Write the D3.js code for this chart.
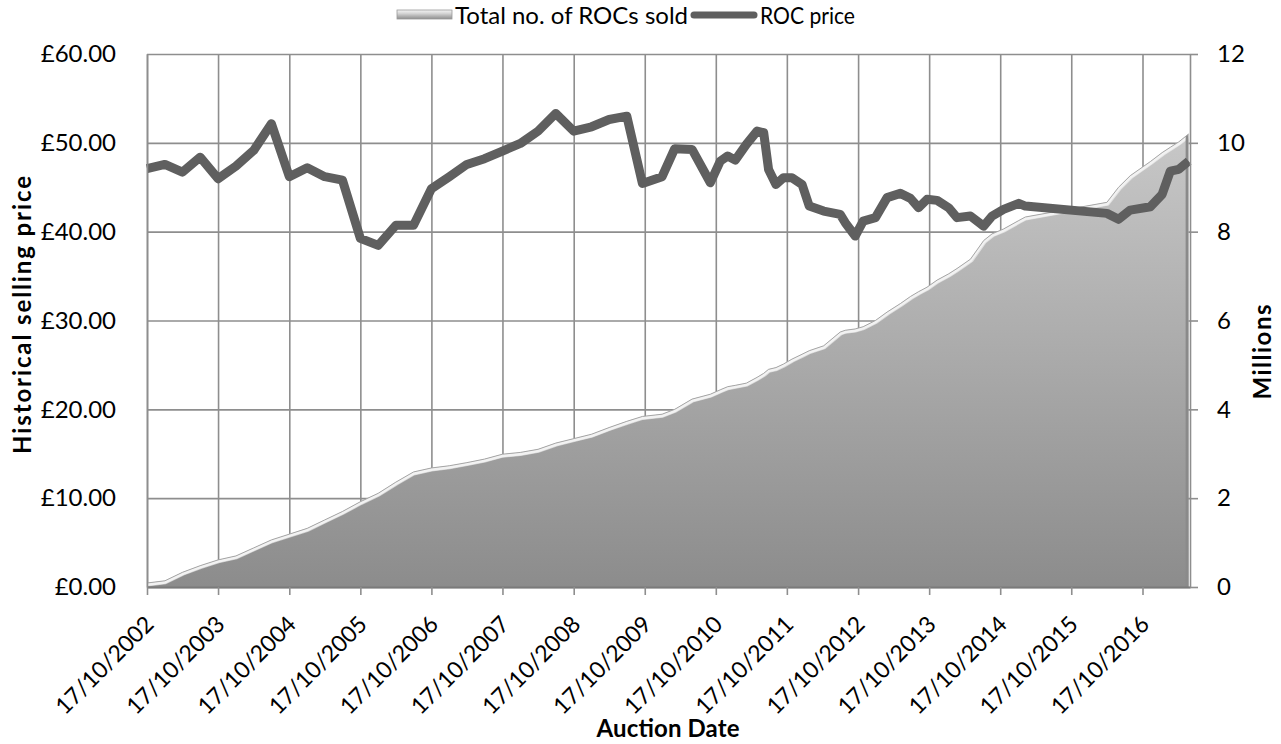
<!DOCTYPE html>
<html><head><meta charset="utf-8">
<script src="https://cdn.jsdelivr.net/npm/d3@7"></script>
<style>
body{margin:0;background:#fff}
svg{display:block}
text{font-family:Lato, "Open Sans", sans-serif;fill:#000}
</style>
</head><body>
<svg id="c" width="1281" height="744"></svg>
<script>
// ---------- data ----------
const auctionDates = [
"2002-10-17","2003-01-17","2003-04-17","2003-07-17","2003-10-17","2004-01-17","2004-04-17","2004-07-17",
"2004-10-17","2005-01-17","2005-04-17","2005-07-17","2005-10-17","2006-01-17","2006-04-17","2006-07-17",
"2006-10-17","2007-01-17","2007-04-17","2007-07-17","2007-10-17","2008-01-17","2008-04-17","2008-07-17",
"2008-10-17","2009-01-17","2009-04-17","2009-07-17","2009-10-05","2010-01-14","2010-03-20","2010-06-17",
"2010-09-19","2010-11-09","2010-12-17","2011-01-25","2011-03-23","2011-05-17","2011-06-20","2011-07-15",
"2011-08-22","2011-09-30","2011-11-12","2012-01-03","2012-02-09","2012-04-23","2012-07-17","2012-08-12",
"2012-10-02","2012-11-12","2013-01-14","2013-03-15","2013-05-22","2013-07-13","2013-08-24","2013-10-06",
"2013-11-27","2014-01-25","2014-03-09","2014-05-17","2014-07-24","2014-09-05","2014-11-03","2015-01-20",
"2015-02-23","2016-04-17","2016-06-16","2016-08-15","2016-11-27","2017-01-26","2017-03-09","2017-04-21",
"2017-06-11"];
const rocPrice = [
47.09,47.57,46.70,48.39,45.96,47.38,49.15,52.15,
46.19,47.20,46.19,45.80,39.25,38.46,40.71,40.71,
44.84,46.19,47.57,48.21,49.07,49.93,51.32,53.31,
51.32,51.81,52.63,53.00,45.43,46.19,49.34,49.26,
45.51,47.94,48.51,48.05,49.82,51.32,51.14,47.01,
45.32,46.08,46.08,45.32,42.88,42.32,41.95,41.01,
39.51,41.19,41.58,43.83,44.31,43.75,42.70,43.64,
43.52,42.70,41.58,41.76,40.63,41.76,42.51,43.19,
42.88,42.06,41.39,42.43,42.81,44.20,46.82,47.01,
47.94];
const rocsSoldMillions = [
0.09,0.14,0.33,0.48,0.61,0.70,0.88,1.06,
1.19,1.32,1.51,1.70,1.92,2.11,2.36,2.59,
2.68,2.73,2.80,2.88,2.99,3.03,3.10,3.24,
3.34,3.44,3.59,3.73,3.84,3.89,4.00,4.23,
4.34,4.44,4.51,4.54,4.59,4.72,4.81,4.90,
4.94,5.02,5.13,5.24,5.32,5.43,5.74,5.78,
5.81,5.86,6.00,6.19,6.38,6.54,6.65,6.75,
6.91,7.05,7.17,7.38,7.80,7.95,8.06,8.25,
8.33,8.66,9.00,9.26,9.58,9.78,9.90,10.02,
10.20];
const xTickLabels = ["17/10/2002","17/10/2003","17/10/2004","17/10/2005","17/10/2006","17/10/2007","17/10/2008",
"17/10/2009","17/10/2010","17/10/2011","17/10/2012","17/10/2013","17/10/2014","17/10/2015","17/10/2016"];
const priceTicks = [0,10,20,30,40,50,60];
const millionTicks = [0,2,4,6,8,10,12];
const xDomain = ["2002-10-17","2017-06-18"];
const seriesNames = ["Total no. of ROCs sold","ROC price"];

// ---------- setup ----------
const parse = d3.timeParse("%Y-%m-%d");
const tickParse = d3.timeParse("%d/%m/%Y");
const L = 147, R = 1190, T = 54, B = 587;
const x = d3.scaleTime().domain(xDomain.map(parse)).range([L, R]);
const yL = d3.scaleLinear().domain([0, 60]).range([B, T]);
const yR = d3.scaleLinear().domain([0, 12]).range([B, T]);
const data = auctionDates.map((d, i) => ({date: parse(d), price: rocPrice[i], sold: rocsSoldMillions[i]}));
const tickDates = xTickLabels.map(tickParse);

const svg = d3.select("#c");
const defs = svg.append("defs");
const g1 = defs.append("linearGradient").attr("id", "areaGrad")
  .attr("gradientUnits", "userSpaceOnUse").attr("x1", 0).attr("x2", 0).attr("y1", T).attr("y2", B);
g1.append("stop").attr("offset", 0).attr("stop-color", "#d2d2d2");
g1.append("stop").attr("offset", 1).attr("stop-color", "#8c8c8c");
const g2 = defs.append("linearGradient").attr("id", "legGrad").attr("x1", 0).attr("x2", 0).attr("y1", 0).attr("y2", 1);
g2.append("stop").attr("offset", 0).attr("stop-color", "#f4f4f4");
g2.append("stop").attr("offset", 0.35).attr("stop-color", "#d8d8d8");
g2.append("stop").attr("offset", 1).attr("stop-color", "#8e8e8e");

const areaGen = d3.area().x(d => x(d.date)).y0(yR(0)).y1(d => yR(d.sold));
const topGen = d3.line().x(d => x(d.date)).y(d => yR(d.sold));
defs.append("clipPath").attr("id", "areaClip").append("path").attr("d", areaGen(data));

// ---------- gridlines ----------
const grid = svg.append("g").attr("class", "grid");
grid.append("g").attr("transform", `translate(0,${B})`)
  .call(d3.axisBottom(x).tickValues(tickDates).tickSize(-(B - T)).tickFormat(""))
  .call(g => g.select(".domain").remove());
grid.append("g").attr("transform", `translate(${L},0)`)
  .call(d3.axisLeft(yL).tickValues(priceTicks).tickSize(-(R - L)).tickFormat(""))
  .call(g => g.select(".domain").remove());
grid.selectAll("line").attr("stroke", "#8e8e8e").attr("stroke-width", 1.6);

// ---------- area ----------
svg.append("path").attr("d", areaGen(data)).attr("fill", "url(#areaGrad)");
const bevel = svg.append("g").attr("clip-path", "url(#areaClip)");
bevel.append("path").attr("d", topGen(data)).attr("fill", "none")
  .attr("stroke", "#ffffff").attr("stroke-opacity", 0.55).attr("stroke-width", 7);
bevel.append("path").attr("d", topGen(data)).attr("fill", "none")
  .attr("stroke", "#f2f2f2").attr("stroke-width", 3).attr("transform", "translate(0,1.5)");
bevel.append("line").attr("x1", x(data[data.length-1].date) - 1.5).attr("x2", x(data[data.length-1].date) - 1.5)
  .attr("y1", yR(data[data.length-1].sold)).attr("y2", B)
  .attr("stroke", "#8a8a8a").attr("stroke-width", 3);
svg.append("path").attr("d", topGen(data)).attr("fill", "none")
  .attr("stroke", "#a6a6a6").attr("stroke-width", 1);

// ---------- price line ----------
svg.append("path").attr("d", d3.line().x(d => x(d.date)).y(d => yL(d.price))(data))
  .attr("fill", "none").attr("stroke", "#5f5f5f").attr("stroke-width", 9)
  .attr("stroke-linejoin", "round").attr("stroke-linecap", "butt");

// ---------- axes ----------
const axB = svg.append("g").attr("transform", `translate(0,${B})`)
  .call(d3.axisBottom(x).tickValues(tickDates).tickSizeInner(8).tickSizeOuter(0)
    .tickFormat((d, i) => xTickLabels[i]));
axB.select(".domain").attr("stroke", "#7a7a7a").attr("stroke-width", 2);
axB.selectAll(".tick line").attr("stroke", "#8e8e8e").attr("stroke-width", 1.6);
axB.selectAll(".tick text")
  .attr("font-size", 23).attr("text-anchor", "end")
  .attr("x", 0).attr("y", 0).attr("dy", "0.35em")
  .attr("transform", "translate(2,33) rotate(-45)");

const axL = svg.append("g").attr("transform", `translate(${L},0)`)
  .call(d3.axisLeft(yL).tickValues(priceTicks).tickSize(0).tickPadding(31)
    .tickFormat(d => "£" + d.toFixed(2)));
axL.select(".domain").attr("stroke", "#8e8e8e").attr("stroke-width", 1.6);
axL.selectAll(".tick text").attr("font-size", 24);

const axR = svg.append("g").attr("transform", `translate(${R},0)`)
  .call(d3.axisRight(yR).tickValues(millionTicks).tickSizeInner(8).tickSizeOuter(0).tickPadding(19));
axR.select(".domain").attr("stroke", "#8e8e8e").attr("stroke-width", 1.6);
axR.selectAll(".tick line").attr("stroke", "#8e8e8e").attr("stroke-width", 1.6);
axR.selectAll(".tick text").attr("font-size", 24);
svg.selectAll(".tick text").attr("fill", "#000").attr("font-family", "Lato, sans-serif");

// ---------- axis titles ----------
svg.append("text").attr("transform", "translate(31,315) rotate(-90)")
  .attr("text-anchor", "middle").attr("font-size", 24).attr("font-weight", "bold")
  .attr("textLength", 278).attr("lengthAdjust", "spacing")
  .text("Historical selling price");
svg.append("text").attr("transform", "translate(1271,352) rotate(-90)")
  .attr("text-anchor", "middle").attr("font-size", 24).attr("font-weight", "bold")
  .attr("textLength", 95).attr("lengthAdjust", "spacing")
  .text("Millions");
svg.append("text").attr("x", 668).attr("y", 737)
  .attr("text-anchor", "middle").attr("font-size", 24).attr("font-weight", "bold")
  .attr("textLength", 143).attr("lengthAdjust", "spacing")
  .text("Auction Date");

// ---------- legend ----------
const leg = svg.append("g");
let lx = 397;
leg.append("rect").attr("x", lx).attr("y", 10).attr("width", 55).attr("height", 9)
  .attr("fill", "url(#legGrad)").attr("stroke", "#9a9a9a").attr("stroke-width", 0.8);
lx += 58;
const t1 = leg.append("text").attr("x", lx).attr("y", 16).attr("dy", "0.35em")
  .attr("font-size", 24).text(seriesNames[0]);
lx += t1.node().getComputedTextLength() + 6;
leg.append("line").attr("x1", lx).attr("x2", lx + 60).attr("y1", 15).attr("y2", 15)
  .attr("stroke", "#5f5f5f").attr("stroke-width", 7).attr("stroke-linecap", "round");
lx += 66;
leg.append("text").attr("x", lx).attr("y", 16).attr("dy", "0.35em")
  .attr("font-size", 24).attr("textLength", 95).attr("lengthAdjust", "spacingAndGlyphs")
  .text(seriesNames[1]);
</script>
</body></html>
